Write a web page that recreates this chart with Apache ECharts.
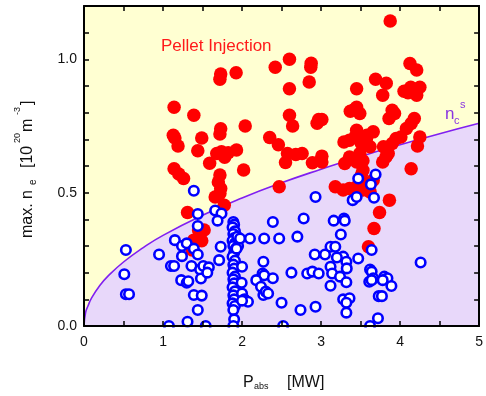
<!DOCTYPE html>
<html>
<head>
<meta charset="utf-8">
<script src="https://cdn.jsdelivr.net/npm/echarts@6/dist/echarts.min.js"></script>
<style>
  html, body {margin: 0; padding: 0; background: #fff;}
  #chart {width: 486px; height: 396px;}
</style>
</head>
<body>
<div id="chart"></div>
<script>
// critical density curve n_c^s
var ncsX = [0, 0.02, 0.05, 0.1, 0.2, 0.3, 0.5, 0.75, 1, 1.5, 2, 2.5, 3, 3.5, 4, 4.5, 5];
var ncsY = [0, 0.05, 0.075, 0.107, 0.152, 0.186, 0.24, 0.294, 0.34, 0.415, 0.48, 0.537, 0.588, 0.636, 0.68, 0.721, 0.76];

// pellet injection shots [P_abs, max n_e]
var pellet = [
  [3.875,1.144],[2.60,1.00],[2.42,0.97],[2.875,0.985],[2.87,0.97],[1.73,0.945],[1.72,0.925],[1.925,0.95],
  [2.85,0.915],[2.60,0.89],[3.45,0.89],[3.69,0.925],[3.825,0.91],[3.78,0.865],[4.125,0.984],[4.21,0.96],
  [4.05,0.88],[4.135,0.895],[4.21,0.865],[4.25,0.895],[4.10,0.875],
  [1.14,0.82],[1.39,0.79],[1.13,0.715],[1.15,0.705],[1.19,0.675],[1.49,0.705],[1.44,0.657],[1.73,0.74],
  [1.72,0.72],[2.04,0.75],[1.59,0.61],[1.68,0.647],[1.74,0.653],[1.825,0.65],[1.93,0.66],[1.78,0.633],
  [1.14,0.59],[1.2,0.57],[1.26,0.553],[2.02,0.585],[1.72,0.566],[1.70,0.54],[1.73,0.516],[1.66,0.484],
  [1.72,0.497],[1.775,0.453],[1.31,0.426],[1.45,0.36],[1.52,0.36],[1.39,0.322],[1.49,0.32],[1.37,0.285],
  [2.35,0.707],[2.46,0.68],[2.60,0.79],[2.64,0.75],[2.575,0.647],[2.68,0.643],[2.76,0.647],[2.55,0.613],
  [2.89,0.612],[2.97,0.774],[3.01,0.774],[2.95,0.76],[3.01,0.637],[3.01,0.615],[2.47,0.522],[3.29,0.69],
  [3.37,0.805],[3.45,0.82],[3.49,0.797],[3.42,0.812],[3.45,0.734],[3.36,0.697],[3.43,0.709],[3.51,0.684],
  [3.575,0.703],[3.62,0.672],[3.66,0.728],[3.58,0.715],[3.3,0.609],[3.36,0.634],[3.45,0.615],[3.49,0.647],
  [3.53,0.62],[3.53,0.584],[3.51,0.566],[3.18,0.522],[3.28,0.51],[3.36,0.516],[3.45,0.522],[3.53,0.51],
  [3.6,0.534],[3.62,0.503],[3.66,0.547],[3.79,0.672],[3.85,0.647],[3.9,0.684],[3.82,0.634],[3.95,0.703],
  [4.01,0.709],[3.86,0.778],[3.9,0.809],[3.93,0.797],[4.08,0.741],[4.14,0.759],[4.18,0.778],[4.25,0.709],
  [4.22,0.675],[4.14,0.59],[3.865,0.472],[3.74,0.426],[3.67,0.366],[3.6,0.297],[3.78,0.615]
];

// gas puff shots [P_abs, max n_e]
var gasPuff = [
  [1.39,0.507],[1.44,0.42],[1.44,0.375],[1.66,0.433],[1.74,0.422],[1.69,0.395],[0.53,0.285],[0.51,0.194],
  [0.53,0.119],[0.57,0.119],[0.95,0.268],[1.15,0.322],[1.24,0.3],[1.30,0.31],[1.24,0.262],[1.39,0.29],
  [1.44,0.268],[1.1,0.225],[1.14,0.225],[1.36,0.225],[1.47,0.212],[1.51,0.225],[1.23,0.172],[1.30,0.162],
  [1.32,0.168],[1.48,0.178],[1.39,0.116],[1.49,0.114],[1.44,0.06],[1.075,0.0],[1.31,0.016],[1.54,0.0],
  [1.73,0.297],[1.71,0.247],[1.58,0.22],[1.56,0.2],
  [1.89,0.39],[1.90,0.38],[1.88,0.37],[1.91,0.355],[1.89,0.345],[1.90,0.33],[1.88,0.32],[1.91,0.31],
  [1.89,0.30],[1.92,0.29],[1.90,0.275],[1.88,0.26],[1.91,0.245],[1.89,0.23],[1.90,0.215],[1.88,0.20],
  [1.91,0.185],[1.89,0.175],[1.90,0.16],[1.88,0.145],[1.91,0.13],[1.89,0.115],[1.90,0.10],[1.88,0.085],
  [1.91,0.075],[1.89,0.06],[1.90,0.025],[1.89,0.0],[1.94,0.335],[1.95,0.30],[1.93,0.29],
  [1.975,0.328],[2.0,0.222],[1.995,0.162],[2.0,0.122],[2.03,0.10],[2.075,0.091],[2.0,0.095],[2.1,0.328],
  [2.28,0.328],[2.47,0.328],[2.39,0.39],[2.7,0.335],[2.78,0.403],[2.27,0.241],[2.26,0.197],[2.28,0.19],
  [2.18,0.172],[2.24,0.147],[2.27,0.116],[2.3,0.129],[2.33,0.122],[2.39,0.179],[2.5,0.087],[2.52,0.0],
  [2.625,0.2],[2.74,0.06],[2.93,0.484],[2.93,0.072],[2.825,0.197],[2.89,0.204],[2.97,0.197],[2.92,0.268],
  [3.05,0.268],[3.12,0.297],[3.18,0.297],[3.12,0.222],[3.14,0.197],[3.12,0.151],[3.16,0.395],[3.29,0.403],
  [3.3,0.395],[3.25,0.343],[3.28,0.26],[3.32,0.241],[3.2,0.257],[3.325,0.216],[3.24,0.185],[3.32,0.164],
  [3.28,0.1],[3.36,0.104],[3.32,0.087],[3.32,0.05],[3.47,0.253],[3.4,0.472],[3.45,0.484],[3.47,0.553],
  [3.63,0.531],[3.69,0.568],[3.67,0.481],[3.64,0.285],[3.62,0.212],[3.64,0.204],[3.66,0.179],[3.61,0.166],
  [3.64,0.172],[3.8,0.185],[3.84,0.179],[3.89,0.15],[3.78,0.172],[3.73,0.112],[3.77,0.112],[3.72,0.029],
  [3.62,0.0],[4.26,0.238]
];

var xTicks = [0, 1, 2, 3, 4, 5];
var yTicks = [0.0, 0.5, 1.0];

var FONT = '"Liberation Sans", Arial, sans-serif';
var chart = echarts.init(document.getElementById('chart'));

var tickLine = {show: true, inside: true, length: 5, lineStyle: {color: '#000', width: 1.5}};
var frameLine = {show: true, onZero: false, lineStyle: {color: '#000', width: 2}};

function xLabel(v) {
  return xTicks.indexOf(Math.round(v * 100) / 100) >= 0 ? String(Math.round(v)) : '';
}
function yLabel(v) {
  var r = Math.round(v * 100) / 100;
  return yTicks.indexOf(r) >= 0 ? r.toFixed(1) : '';
}

chart.setOption({
  animation: false,
  grid: {left: 84, right: 2, top: 6, bottom: 70, show: true, backgroundColor: '#ffffd2', borderWidth: 0},
  xAxis: [{
    type: 'value', min: 0, max: 5, interval: 0.5, z: 300,
    axisLine: frameLine, axisTick: tickLine, splitLine: {show: false},
    axisLabel: {formatter: xLabel, color: '#111', fontSize: 14, fontFamily: FONT, margin: 9, showMaxLabel: true}
  }, {
    type: 'value', position: 'top', min: 0, max: 5, interval: 0.5, z: 300,
    axisLine: frameLine, axisTick: tickLine, splitLine: {show: false}, axisLabel: {show: false}
  }],
  yAxis: [{
    type: 'value', min: 0, max: 1.2, interval: 0.1, z: 300,
    axisLine: frameLine, axisTick: tickLine, splitLine: {show: false},
    axisLabel: {formatter: yLabel, color: '#111', fontSize: 14, fontFamily: FONT, margin: 7}
  }, {
    type: 'value', position: 'right', min: 0, max: 1.2, interval: 0.1, z: 300,
    axisLine: frameLine, axisTick: tickLine, splitLine: {show: false}, axisLabel: {show: false}
  }],
  series: [{
    type: 'line',
    data: ncsX.map(function (x, i) { return [x, ncsY[i]]; }),
    symbol: 'none', smooth: true, z: 1,
    lineStyle: {color: '#8020f0', width: 1.6},
    areaStyle: {color: '#e8d8fa', opacity: 1}
  }, {
    type: 'scatter', data: pellet, symbol: 'circle', symbolSize: 13.5, z: 3,
    itemStyle: {color: '#ff0000', opacity: 1}
  }, {
    type: 'scatter', data: gasPuff, symbol: 'circle', symbolSize: 9.5, z: 4,
    itemStyle: {color: '#ffffff', borderColor: '#0000ff', borderWidth: 2.6, opacity: 1}
  }],
  graphic: [
    // hide the parts of markers hanging below the x axis
    {type: 'rect', shape: {x: 80, y: 327.5, width: 406, height: 8}, style: {fill: '#fff'}, z: 100, silent: true},
    {type: 'text', x: 161, y: 46, style: {text: 'Pellet Injection', font: '17px ' + FONT, fill: '#ff1a1a', verticalAlign: 'middle'}},
    {type: 'text', x: 405, y: 294, style: {text: 'Gas Puff', font: '16px ' + FONT, fill: '#2222ee', verticalAlign: 'middle'}},
    {type: 'text', x: 445, y: 114, style: {text: 'n', font: '17px ' + FONT, fill: '#8a35e0', verticalAlign: 'middle'}},
    {type: 'text', x: 454, y: 121, style: {text: 'c', font: '11px ' + FONT, fill: '#8a35e0', verticalAlign: 'middle'}},
    {type: 'text', x: 460, y: 105, style: {text: 's', font: '11px ' + FONT, fill: '#8a35e0', verticalAlign: 'middle'}},
    // x axis title
    {type: 'text', x: 243, y: 382.5, style: {text: 'P', font: '16px ' + FONT, fill: '#111', verticalAlign: 'middle'}},
    {type: 'text', x: 254, y: 387, style: {text: 'abs', font: '9px ' + FONT, fill: '#111', verticalAlign: 'middle'}},
    {type: 'text', x: 287, y: 382.5, style: {text: '[MW]', font: '16px ' + FONT, fill: '#111', verticalAlign: 'middle'}},
    // y axis title, rotated
    {type: 'group', x: 27.5, y: 238, rotation: Math.PI / 2, children: [
      {type: 'text', x: 0, y: 0, style: {text: 'max. n', font: '16px ' + FONT, fill: '#111', verticalAlign: 'middle'}},
      {type: 'text', x: 53, y: 5.5, style: {text: 'e', font: '10px ' + FONT, fill: '#111', verticalAlign: 'middle'}},
      {type: 'text', x: 70, y: 0, style: {text: '[10', font: '16px ' + FONT, fill: '#111', verticalAlign: 'middle'}},
      {type: 'text', x: 95, y: -10, style: {text: '20', font: '9px ' + FONT, fill: '#111', verticalAlign: 'middle'}},
      {type: 'text', x: 106, y: 0, style: {text: 'm', font: '16px ' + FONT, fill: '#111', verticalAlign: 'middle'}},
      {type: 'text', x: 123, y: -10, style: {text: '-3', font: '9px ' + FONT, fill: '#111', verticalAlign: 'middle'}},
      {type: 'text', x: 133, y: 0, style: {text: ']', font: '16px ' + FONT, fill: '#111', verticalAlign: 'middle'}}
    ]}
  ]
});
</script>
</body>
</html>
